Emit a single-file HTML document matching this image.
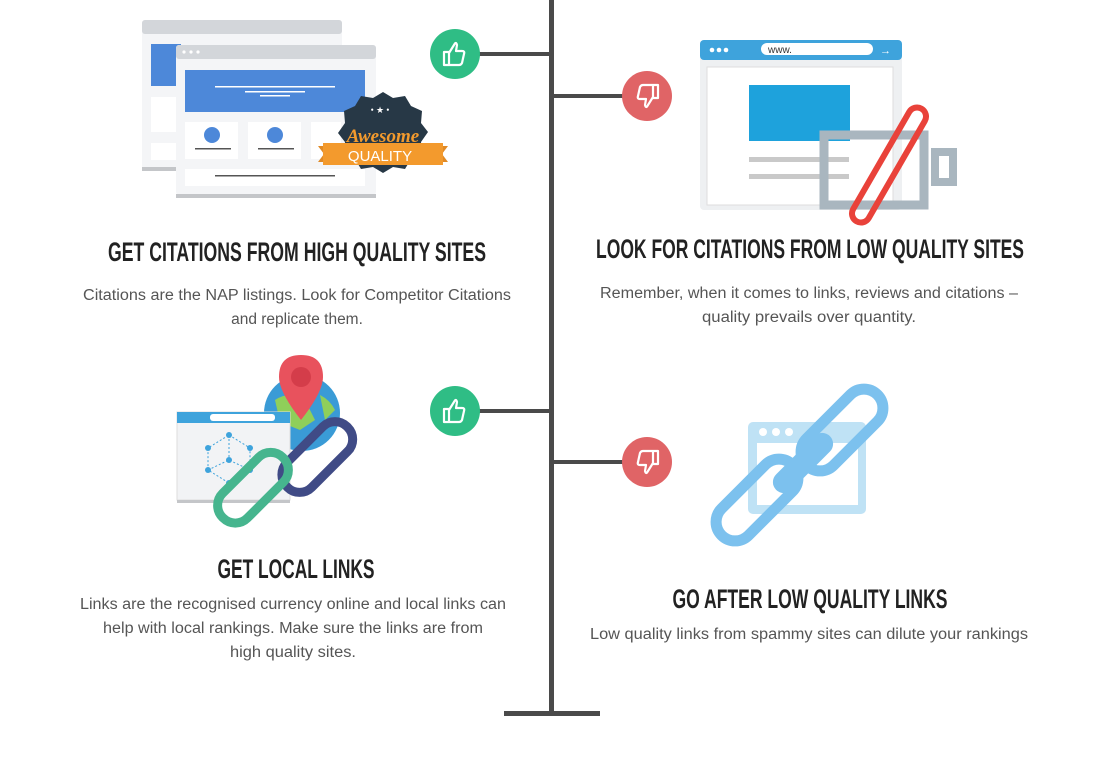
<!DOCTYPE html>
<html><head><meta charset="utf-8"><style>
html,body{margin:0;padding:0;background:#fff;width:1110px;height:776px;overflow:hidden}
.h{font-family:"Liberation Sans Narrow","Liberation Sans",sans-serif;font-weight:bold;fill:#222;font-size:27px}
.b{font-family:"Liberation Sans",sans-serif;fill:#555;font-size:15.5px}
</style></head><body>
<svg width="1110" height="776" viewBox="0 0 1110 776" xmlns="http://www.w3.org/2000/svg">
<!-- timeline -->
<rect x="549" y="0" width="5" height="716" fill="#4a4a4a"/>
<rect x="504" y="711" width="96" height="5" fill="#4a4a4a"/>
<rect x="478" y="52" width="73" height="4" fill="#4a4a4a"/>
<rect x="553" y="94" width="70" height="4" fill="#4a4a4a"/>
<rect x="478" y="409" width="73" height="4" fill="#4a4a4a"/>
<rect x="553" y="460" width="70" height="4" fill="#4a4a4a"/>
<!-- circles -->
<g>
<circle cx="455" cy="54" r="25" fill="#2fbd85"/>
<circle cx="455" cy="411" r="25" fill="#2fbd85"/>
<circle cx="647" cy="96" r="25" fill="#e06466"/>
<circle cx="647" cy="462" r="25" fill="#e06466"/>
<g fill="none" stroke="#fff" stroke-width="2.2" stroke-linejoin="round">
<path d="M444 52 h5 v13 h-5z M449 53 l5 -8 q2 -4 3 0 l-1 6 h6 q3 0 2 3 l-2 9 q-1 2 -3 2 h-10"/>
<path d="M444 409 h5 v13 h-5z M449 410 l5 -8 q2 -4 3 0 l-1 6 h6 q3 0 2 3 l-2 9 q-1 2 -3 2 h-10"/>
<path d="M658 98 h-5 v-13 h5z M653 97 l-5 8 q-2 4 -3 0 l1 -6 h-6 q-3 0 -2 -3 l2 -9 q1 -2 3 -2 h10"/>
<path d="M658 464 h-5 v-13 h5z M653 463 l-5 8 q-2 4 -3 0 l1 -6 h-6 q-3 0 -2 -3 l2 -9 q1 -2 3 -2 h10"/>
</g></g>

<!-- illustration 1 -->
<g>
<rect x="142" y="20" width="200" height="150" rx="3" fill="#f4f5f7"/>
<rect x="142" y="20" width="200" height="14" rx="3" fill="#d3d6da"/>
<rect x="142" y="167" width="200" height="4" fill="#c4c6c9"/>
<rect x="151" y="44" width="30" height="42" fill="#4d88d9"/>
<rect x="151" y="97" width="25" height="35" fill="#fff"/>
<rect x="151" y="143" width="25" height="17" fill="#fff"/>
<rect x="176" y="45" width="200" height="150" rx="3" fill="#f4f5f7"/>
<rect x="176" y="45" width="200" height="14" rx="3" fill="#d3d6da"/>
<circle cx="184" cy="52" r="1.6" fill="#fff"/><circle cx="191" cy="52" r="1.6" fill="#fff"/><circle cx="198" cy="52" r="1.6" fill="#fff"/>
<rect x="176" y="194" width="200" height="4" fill="#c4c6c9"/>
<rect x="185" y="70" width="180" height="42" fill="#4d88d9"/>
<rect x="215" y="86" width="120" height="1.5" fill="#fff"/><rect x="245" y="91" width="60" height="1.5" fill="#fff"/><rect x="260" y="95" width="30" height="1.5" fill="#fff"/>
<rect x="185" y="122" width="53" height="37" fill="#fff"/><rect x="248" y="122" width="53" height="37" fill="#fff"/><rect x="311" y="122" width="30" height="37" fill="#fff"/>
<circle cx="212" cy="135" r="8" fill="#4d88d9"/><circle cx="275" cy="135" r="8" fill="#4d88d9"/>
<rect x="195" y="148" width="36" height="1.5" fill="#555"/><rect x="258" y="148" width="36" height="1.5" fill="#555"/>
<rect x="185" y="169" width="180" height="17" fill="#fff"/><rect x="215" y="175" width="120" height="1.5" fill="#555"/>
<path d="M383 92 l10 6 12 -2 6 10 11 5 -1 12 7 9 -7 10 1 12 -11 5 -6 10 -12 -2 -10 6 -10 -6 -12 2 -6 -10 -11 -5 1 -12 -7 -9 7 -10 -1 -12 11 -5 6 -10 12 2z" fill="#273846"/>
<path d="M318 146 h130 l-6 8 6 8 h-130 l6 -8z" fill="#e08a26"/>
<rect x="323" y="143" width="120" height="22" fill="#f39a2d"/>
<text x="383" y="142" text-anchor="middle" font-family="Liberation Serif,serif" font-style="italic" font-weight="bold" font-size="19" fill="#f39a2d">Awesome</text>
<text x="380" y="161" text-anchor="middle" font-family="Liberation Sans,sans-serif" font-size="15" fill="#fff">QUALITY</text>
<text x="380" y="113" text-anchor="middle" font-size="9" fill="#fff">• ★ •</text>
</g>

<!-- illustration 2 -->
<g>
<rect x="700" y="40" width="202" height="170" rx="4" fill="#eef0f2"/>
<rect x="700" y="40" width="202" height="20" rx="4" fill="#3ea3dc"/>
<circle cx="712" cy="50" r="2.3" fill="#fff"/><circle cx="719" cy="50" r="2.3" fill="#fff"/><circle cx="726" cy="50" r="2.3" fill="#fff"/>
<rect x="761" y="43" width="112" height="12" rx="6" fill="#fff"/>
<text x="768" y="53" font-family="Liberation Sans,sans-serif" font-size="10" fill="#333">www.</text>
<text x="880" y="54" font-family="Liberation Sans,sans-serif" font-size="11" fill="#fff">→</text>
<rect x="707" y="67" width="186" height="138" fill="#fff" stroke="#ddd"/>
<rect x="749" y="85" width="101" height="56" fill="#1ea2dc"/>
<rect x="749" y="157" width="100" height="5" fill="#c9c9c9"/><rect x="749" y="174" width="100" height="5" fill="#c9c9c9"/>
<path d="M824 135 h100 v70 h-100z" fill="none" stroke="#a9b6bf" stroke-width="9"/>
<rect x="935" y="152" width="18" height="30" fill="none" stroke="#a9b6bf" stroke-width="8"/>
<rect x="880" y="100" width="18" height="130" rx="9" fill="none" stroke="#e9423a" stroke-width="6" transform="rotate(30 889 165)"/>
</g>

<!-- illustration 3 -->
<g>
<circle cx="302" cy="413" r="38" fill="#3a9bd6"/>
<path d="M275 400 q15 -10 30 0 l10 20 -15 10 -20 -8z M320 395 q10 5 15 15 l-10 10z" fill="#8fcf5a"/>
<rect x="177" y="412" width="113" height="88" fill="#f2f3f5" stroke="#ddd"/>
<rect x="177" y="412" width="113" height="11" fill="#3ea3dc"/>
<rect x="210" y="414" width="65" height="7" rx="3" fill="#fff"/>
<rect x="177" y="500" width="113" height="3" fill="#c4c6c9"/>
<g stroke="#3ea3dc" stroke-dasharray="2 2" stroke-width="1" fill="none"><path d="M229 435 L250 448 L250 470 L229 483 L208 470 L208 448Z M229 435 V460 M208 470 L229 460 L250 470"/></g>
<g fill="#3ea3dc"><circle cx="229" cy="435" r="3"/><circle cx="250" cy="448" r="3"/><circle cx="250" cy="470" r="3"/><circle cx="229" cy="483" r="3"/><circle cx="208" cy="470" r="3"/><circle cx="208" cy="448" r="3"/><circle cx="229" cy="460" r="3"/></g>
<path d="M301 355 q-22 0 -22 22 q0 15 22 43 q22 -28 22 -43 q0 -22 -22 -22z" fill="#e8525d"/>
<circle cx="301" cy="377" r="10" fill="#d43d4a"/>
<rect x="300" y="415" width="35" height="85" rx="17" fill="none" stroke="#404b86" stroke-width="9" transform="rotate(45 318 457)"/>
<rect x="236" y="445" width="35" height="85" rx="17" fill="none" stroke="#46b58e" stroke-width="9" transform="rotate(45 253 487)"/>
</g>

<!-- illustration 4 -->
<g>
<rect x="748" y="422" width="118" height="92" rx="5" fill="#bfe2f5"/>
<rect x="757" y="443" width="101" height="62" fill="#fff"/>
<circle cx="763" cy="432" r="4" fill="#fff"/><circle cx="776" cy="432" r="4" fill="#fff"/><circle cx="789" cy="432" r="4" fill="#fff"/>
<rect x="823" y="380" width="38" height="100" rx="19" fill="none" stroke="#7cc1ee" stroke-width="11" transform="rotate(45 842 430)"/>
<rect x="738" y="450" width="38" height="100" rx="19" fill="none" stroke="#7cc1ee" stroke-width="11" transform="rotate(45 757 500)"/>
<rect x="792" y="425" width="22" height="76" rx="11" fill="#7cc1ee" transform="rotate(45 803 463)"/>
</g>

<!-- headings -->
<text class="h" x="297" y="261" text-anchor="middle" textLength="378" lengthAdjust="spacingAndGlyphs">GET CITATIONS FROM HIGH QUALITY SITES</text>
<text class="h" x="810" y="258" text-anchor="middle" textLength="428" lengthAdjust="spacingAndGlyphs">LOOK FOR CITATIONS FROM LOW QUALITY SITES</text>
<text class="h" x="296" y="578" text-anchor="middle" textLength="157" lengthAdjust="spacingAndGlyphs">GET LOCAL LINKS</text>
<text class="h" x="810" y="608" text-anchor="middle" textLength="275" lengthAdjust="spacingAndGlyphs">GO AFTER LOW QUALITY LINKS</text>
<!-- body -->
<text class="b" x="297" y="300" text-anchor="middle" textLength="428" lengthAdjust="spacingAndGlyphs">Citations are the NAP listings. Look for Competitor Citations</text>
<text class="b" x="297" y="324" text-anchor="middle">and replicate them.</text>
<text class="b" x="809" y="298" text-anchor="middle" textLength="418" lengthAdjust="spacingAndGlyphs">Remember, when it comes to links, reviews and citations –</text>
<text class="b" x="809" y="322" text-anchor="middle" textLength="214" lengthAdjust="spacingAndGlyphs">quality prevails over quantity.</text>
<text class="b" x="293" y="609" text-anchor="middle" textLength="426" lengthAdjust="spacingAndGlyphs">Links are the recognised currency online and local links can</text>
<text class="b" x="293" y="633" text-anchor="middle" textLength="380" lengthAdjust="spacingAndGlyphs">help with local rankings. Make sure the links are from</text>
<text class="b" x="293" y="657" text-anchor="middle" textLength="126" lengthAdjust="spacingAndGlyphs">high quality sites.</text>
<text class="b" x="809" y="639" text-anchor="middle" textLength="438" lengthAdjust="spacingAndGlyphs">Low quality links from spammy sites can dilute your rankings</text>
</svg>
</body></html>
